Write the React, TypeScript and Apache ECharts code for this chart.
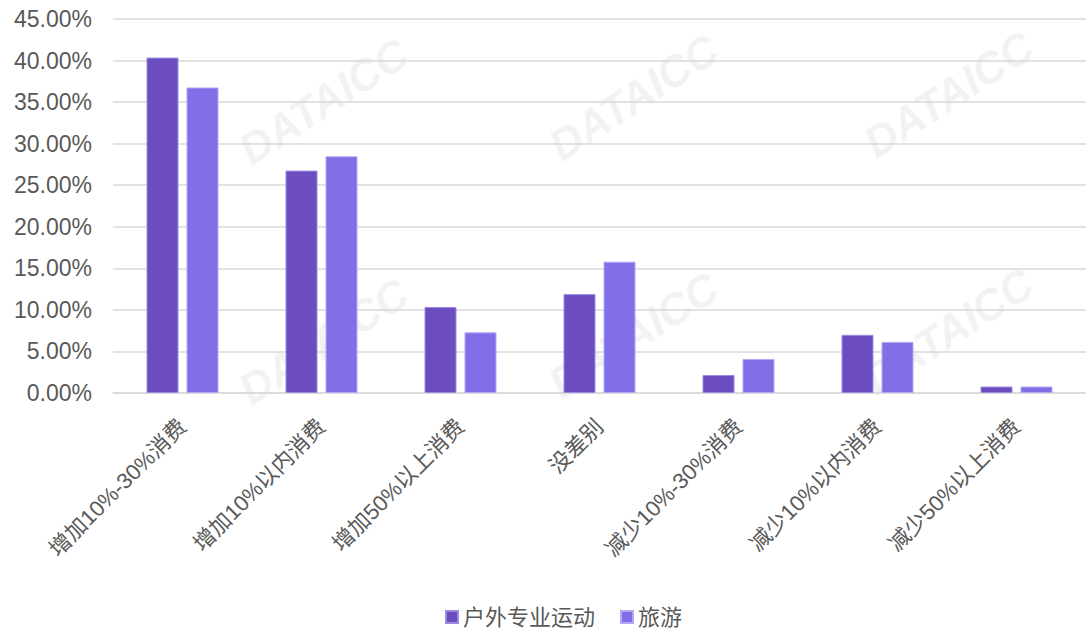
import React, { useEffect, useRef } from "react";
import * as echarts from "echarts";

const categories = [
  "增加10%-30%消费",
  "增加10%以内消费",
  "增加50%以上消费",
  "没差别",
  "减少10%-30%消费",
  "减少10%以内消费",
  "减少50%以上消费",
];
const seriesNames = ["户外专业运动", "旅游"];
const outdoorValues = [40.36, 26.76, 10.35, 11.9, 2.17, 7.0, 0.78];
const travelValues = [36.76, 28.48, 7.3, 15.8, 4.1, 6.15, 0.78];
const yTicks = { min: 0, max: 45, interval: 5 };

const FONT = "'Liberation Sans', 'Noto Sans CJK SC', sans-serif";

const watermarkSpots = [
  [255, 172], [565, 168], [880, 165],
  [255, 412], [565, 406], [880, 402],
];

export default function App() {
  const ref = useRef<HTMLDivElement>(null);
  useEffect(() => {
    document.body.style.margin = "0";
    if (!ref.current) return;
    const chart = echarts.init(ref.current, null, { renderer: "svg" });
    chart.setOption({
      animation: false,
      backgroundColor: "#ffffff",
      textStyle: { fontFamily: FONT },
      graphic: watermarkSpots.map(([x, y]) => ({
        type: "text",
        x,
        y,
        rotation: (33 * Math.PI) / 180,
        z: -10,
        silent: true,
        style: {
          text: "DATAICC",
          fontSize: 44,
          fontWeight: "bold",
          fontStyle: "italic",
          fontFamily: FONT,
          align: "left",
          verticalAlign: "bottom",
          fill: "rgba(200,200,200,0.22)",
        },
      })),
      grid: { left: 113, top: 19, height: 374, width: 982 },
      legend: {
        data: seriesNames,
        top: 601,
        left: 440,
        itemWidth: 12,
        itemHeight: 12,
        itemGap: 25,
        icon: "rect",
        textStyle: { fontSize: 22, color: "#595959", fontFamily: FONT },
      },
      xAxis: {
        type: "category",
        data: categories,
        axisTick: { show: false },
        axisLine: { lineStyle: { color: "#d9d9d9", width: 1.5 } },
        axisLabel: {
          rotate: 45,
          interval: 0,
          fontSize: 22,
          color: "#595959",
          margin: 30,
          fontFamily: FONT,
        },
      },
      yAxis: {
        type: "value",
        min: yTicks.min,
        max: yTicks.max,
        interval: yTicks.interval,
        axisLine: { show: false },
        axisTick: { show: false },
        splitLine: { lineStyle: { color: "#d9d9d9", width: 1.5 } },
        axisLabel: {
          fontSize: 23,
          color: "#595959",
          margin: 21,
          fontFamily: FONT,
          formatter: (v: number) => v.toFixed(2) + "%",
        },
      },
      series: [
        {
          name: seriesNames[0],
          type: "bar",
          data: outdoorValues,
          barWidth: 32,
          barGap: "25%",
          itemStyle: { color: "#6b4dc0", borderColor: "#9d8ae0", borderWidth: 1 },
        },
        {
          name: seriesNames[1],
          type: "bar",
          data: travelValues,
          barWidth: 32,
          barGap: "25%",
          itemStyle: { color: "#826fe8", borderColor: "#b3a8f2", borderWidth: 1 },
        },
      ],
    });
    return () => chart.dispose();
  }, []);
  return <div ref={ref} style={{ width: 1086, height: 631 }} />;
}
